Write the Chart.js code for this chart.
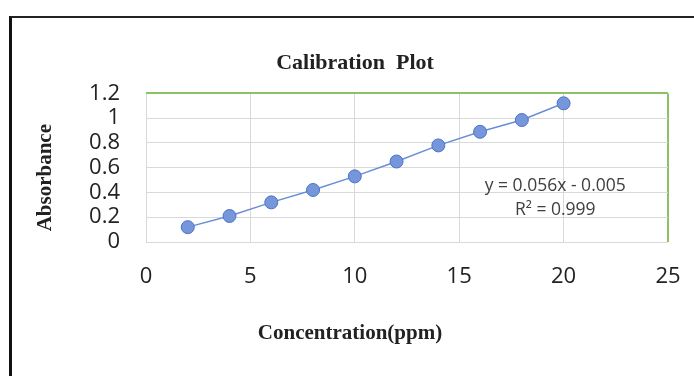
<!DOCTYPE html>
<html>
<head>
<meta charset="utf-8">
<script src="https://cdn.jsdelivr.net/npm/chart.js@4"></script>
<style>
  html, body { margin: 0; padding: 0; background: #fff; overflow: hidden; }
  #wrap { position: relative; width: 694px; height: 376px; overflow: hidden; }
  #frame { position: absolute; left: 9px; top: 16px; width: 800px; height: 500px;
           border-left: 3px solid #111; border-top: 2px solid #222; }
  #calChart { position: absolute; left: 0; top: 0; }
</style>
</head>
<body>
<div id="wrap">
  <div id="frame"></div>
  <canvas id="calChart" width="710" height="376"></canvas>
</div>
<script>
// calibration data
var concentration = [2, 4, 6, 8, 10, 12, 14, 16, 18, 20];
var absorbance    = [0.12, 0.21, 0.32, 0.42, 0.53, 0.65, 0.78, 0.89, 0.985, 1.12];

var xTickLabels = ['0', '5', '10', '15', '20', '25'];
var yTickLabels = ['0', '0.2', '0.4', '0.6', '0.8', '1', '1.2'];

var trendText = ['y = 0.056x - 0.005', 'R\u00b2 = 0.999'];

var TEXT = '#222';
var GRID = '#d9d9d9';
var EDGE = '#8cc266';
var SERIF = "'Liberation Serif', 'Times New Roman', serif";
var SANS = "'Open Sans', sans-serif";

function edgeColor(ctx) {
    return ctx.index === ctx.scale.ticks.length - 1 ? EDGE : GRID;
}
function edgeWidth(ctx) {
    return ctx.index === ctx.scale.ticks.length - 1 ? 2 : 1;
}

// axis titles and the trendline label
var extraText = {
    id: 'extraText',
    afterDraw: function (chart) {
        var c = chart.ctx, a = chart.chartArea;
        var xs = chart.scales.x, ys = chart.scales.y;
        c.save();
        c.fillStyle = TEXT;
        c.textAlign = 'center';
        c.textBaseline = 'middle';
        c.font = 'bold 21px ' + SERIF;
        c.fillText('Concentration(ppm)', a.left + 204, a.bottom + 92);
        c.save();
        c.translate(46, (a.top + a.bottom) / 2 + 10);
        c.rotate(-Math.PI / 2);
        c.fillText('Absorbance', 0, 0);
        c.restore();
        c.fillStyle = '#404040';
        c.font = '17.5px ' + SANS;
        c.fillText(trendText[0], xs.getPixelForValue(19.6), ys.getPixelForValue(0.45));
        c.fillText(trendText[1], xs.getPixelForValue(19.6), ys.getPixelForValue(0.255));
        c.restore();
    }
};

new Chart(document.getElementById('calChart'), {
    type: 'scatter',
    data: {
        datasets: [{
            data: concentration.map(function (x, i) { return { x: x, y: absorbance[i] }; }),
            showLine: true,
            borderColor: '#6a8ed6',
            borderWidth: 1.5,
            pointRadius: 6.5,
            pointBackgroundColor: '#7596da',
            pointBorderColor: '#4b73c6',
            pointBorderWidth: 1
        }]
    },
    options: {
        responsive: false,
        animation: false,
        layout: { padding: { left: 42, right: 42 } },
        plugins: {
            legend: { display: false },
            tooltip: { enabled: false },
            title: {
                display: true,
                text: 'Calibration  Plot',
                color: TEXT,
                font: { family: SERIF, size: 22, weight: 'bold' },
                padding: { top: 50, bottom: 17 }
            }
        },
        scales: {
            x: {
                type: 'linear',
                min: 0,
                max: 25,
                afterFit: function (s) { s.height = 134; },
                ticks: {
                    stepSize: 5,
                    padding: 22,
                    autoSkip: false,
                    color: TEXT,
                    font: { family: SANS, size: 22 },
                    maxRotation: 0,
                    callback: function (v, i) { return xTickLabels[i]; }
                },
                grid: { color: edgeColor, lineWidth: edgeWidth, drawTicks: false },
                border: { display: false }
            },
            y: {
                min: 0,
                max: 1.2,
                afterFit: function (s) { s.width = 104; },
                ticks: {
                    stepSize: 0.2,
                    padding: 26,
                    autoSkip: false,
                    color: TEXT,
                    font: { family: SANS, size: 22 },
                    callback: function (v, i) { return yTickLabels[i]; }
                },
                grid: { color: edgeColor, lineWidth: edgeWidth, drawTicks: false },
                border: { display: false }
            }
        }
    },
    plugins: [extraText]
});
</script>
</body>
</html>
